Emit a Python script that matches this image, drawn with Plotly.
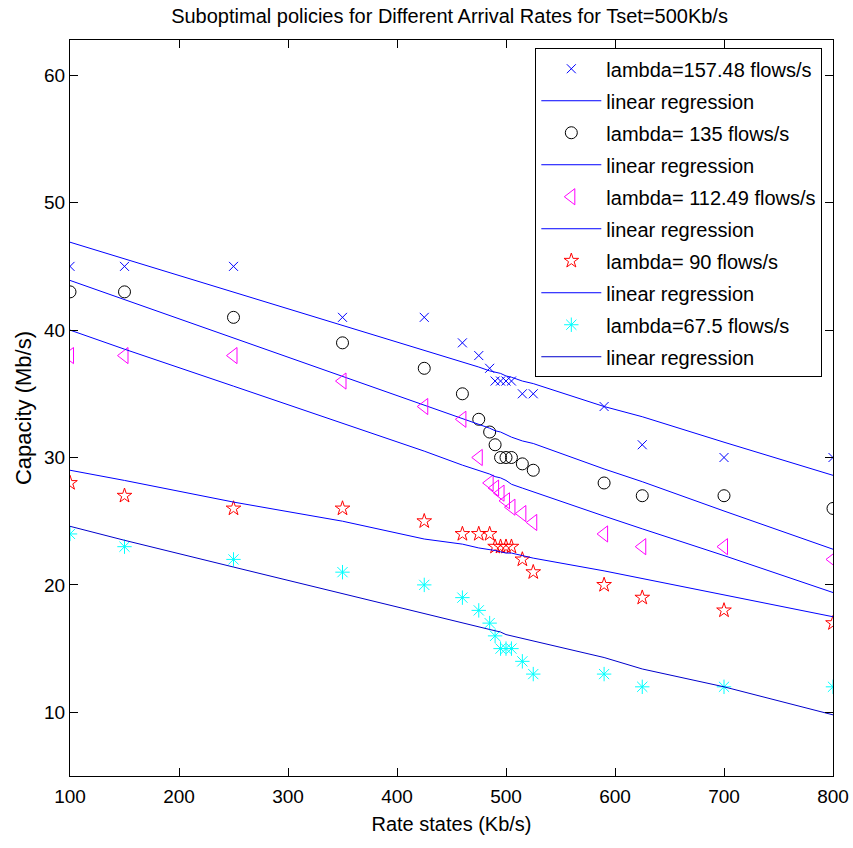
import plotly.graph_objects as go

rate_states = [100, 150, 250, 350, 425, 460, 475, 485, 490, 495, 500, 505, 515, 525, 590, 625, 700, 800]

cap_157 = [45, 45, 45, 41, 41, 39, 38, 37, 36, 36, 36, 36, 35, 35, 34, 31, 30, 30]
reg_157 = [46.9, 45.6, 43.0, 40.4, 38.4, 37.5, 37.1, 36.8, 36.7, 36.6, 36.4, 36.3, 36.0, 35.8, 34.0, 33.2, 31.2, 28.6]

cap_135 = [43, 43, 41, 39, 37, 35, 33, 32, 31, 30, 30, 30, 29.5, 29, 28, 27, 27, 26]
reg_135 = [43.9, 42.4, 39.4, 36.4, 34.1, 33.1, 32.6, 32.3, 32.1, 32.0, 31.8, 31.6, 31.3, 31.1, 29.1, 28.1, 25.8, 22.8]

cap_112 = [38, 38, 38, 36, 34, 33, 30, 28, 27.6, 27.2, 26.6, 26.1, 25.6, 24.9, 24, 23, 23, 22]
reg_112 = [40.0, 38.5, 35.6, 32.7, 30.5, 29.4, 29.0, 28.7, 28.5, 28.4, 28.2, 27.9, 27.6, 27.3, 25.4, 24.4, 22.3, 19.4]

cap_90 = [28, 27, 26, 26, 25, 24, 24, 24, 23, 23, 23, 23, 22, 21, 20, 19, 18, 17]
reg_90 = [29.0, 28.2, 26.5, 25.0, 23.6, 23.2, 22.9, 22.8, 22.7, 22.6, 22.5, 22.5, 22.3, 22.1, 21.1, 20.5, 19.2, 17.5]

cap_67 = [24, 23, 22, 21, 20, 19, 18, 17, 16, 15, 15, 15, 14, 13, 13, 12, 12, 12]
reg_67 = [24.6, 23.5, 21.4, 19.3, 17.7, 17.0, 16.7, 16.5, 16.4, 16.3, 16.1, 16.0, 15.8, 15.6, 14.3, 13.4, 12.0, 9.8]

x_ticks = [100, 200, 300, 400, 500, 600, 700, 800]
y_ticks = [10, 20, 30, 40, 50, 60]

FONT = "Liberation Sans, Arial, sans-serif"

series = [
    ("lambda=157.48 flows/s", cap_157, reg_157, "x-thin-open", "#0000FF", 9),
    ("lambda= 135 flows/s", cap_135, reg_135, "circle-open", "#000000", 12),
    ("lambda= 112.49 flows/s", cap_112, reg_112, "triangle-left-open", "#FF00FF", 14),
    ("lambda= 90 flows/s", cap_90, reg_90, "star-open", "#FF0000", 11),
    ("lambda=67.5 flows/s", cap_67, reg_67, "asterisk-open", "#00FFFF", 12),
]

fig = go.Figure()
for i, (name, pts, reg, sym, col, sz) in enumerate(series):
    fig.add_trace(go.Scatter(
        x=rate_states, y=pts, mode="markers", name=name, legendgroup=f"m{i}",
        marker=dict(symbol=sym, color=col, size=sz, line=dict(color=col, width=1)),
    ))
    fig.add_trace(go.Scatter(
        x=rate_states, y=reg, mode="lines", name="linear regression", legendgroup=f"r{i}",
        line=dict(color="#0000FF" if i < 4 else "#0000CC", width=1),
    ))

axis_common = dict(
    showline=True, linecolor="black", linewidth=1, mirror="ticks",
    ticks="inside", ticklen=8, tickcolor="black", tickwidth=1,
    showgrid=False, zeroline=False, automargin=False,
    tickfont=dict(family=FONT, size=19, color="black"),
)

fig.update_layout(
    width=853, height=848,
    margin=dict(l=70, r=20, t=40, b=72),
    paper_bgcolor="white", plot_bgcolor="white",
    font=dict(family=FONT, color="black"),
    title=dict(text="Suboptimal policies for Different Arrival Rates for Tset=500Kb/s",
               x=0.527, xanchor="center", y=1 - 16 / 848, yanchor="middle",
               font=dict(family=FONT, size=20, color="black")),
    xaxis=dict(range=[100, 800], tickvals=x_ticks, ticklabelstandoff=3,
               title=dict(text="Rate states (Kb/s)", font=dict(family=FONT, size=20), standoff=11),
               **axis_common),
    yaxis=dict(range=[5, 62.77], tickvals=y_ticks,
               title=dict(text="Capacity (Mb/s)", font=dict(family=FONT, size=22), standoff=6),
               **axis_common),
    legend=dict(x=0.986, y=0.9888, xanchor="right", yanchor="top",
                bgcolor="white", bordercolor="black", borderwidth=1,
                font=dict(family=FONT, size=20, color="black"),
                itemwidth=60, tracegroupgap=3),
    showlegend=True,
)

fig.write_html("out.html")
